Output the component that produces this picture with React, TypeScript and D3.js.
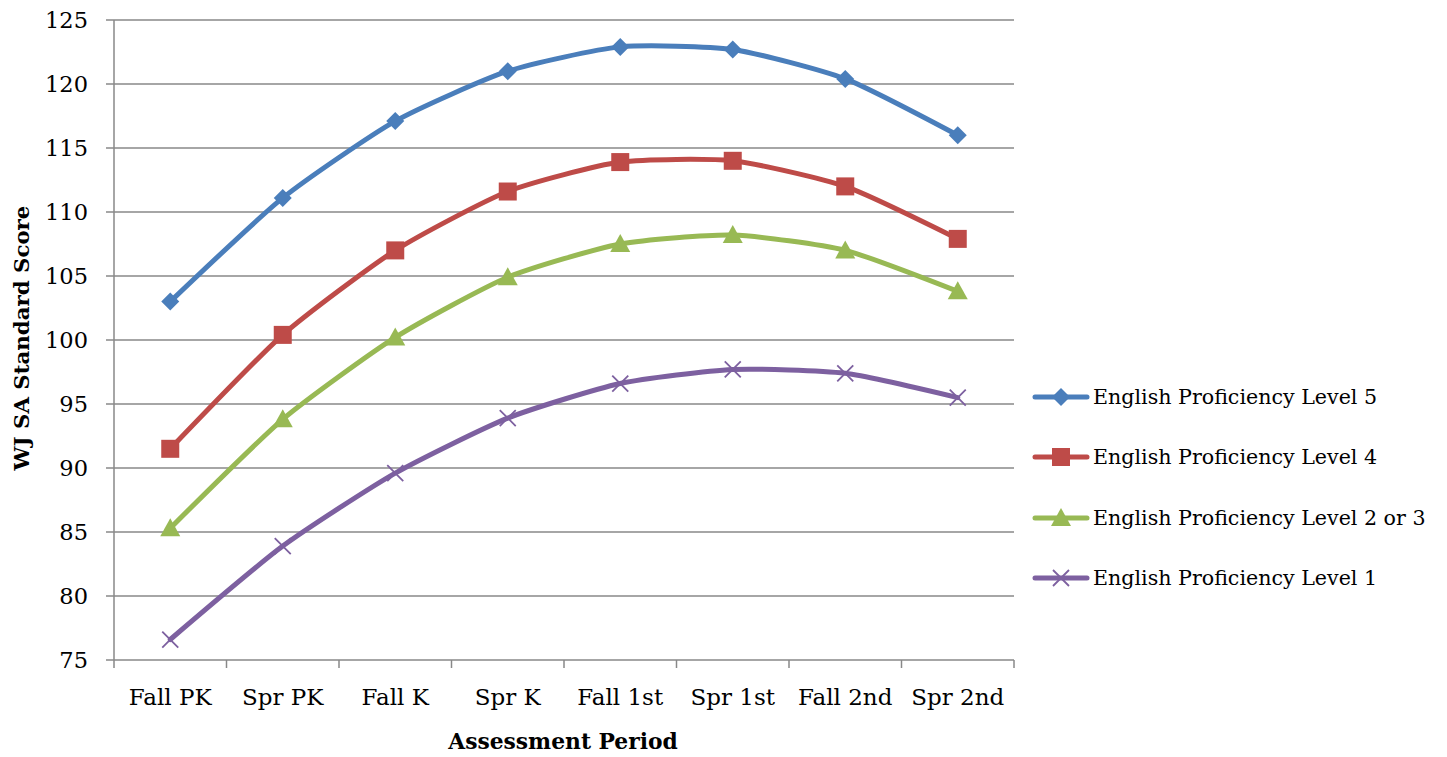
import React from "react";
import * as d3 from "d3";

const categories = ["Fall PK", "Spr PK", "Fall K", "Spr K", "Fall 1st", "Spr 1st", "Fall 2nd", "Spr 2nd"];
const level5 = [103.0, 111.1, 117.1, 121.0, 122.9, 122.7, 120.4, 116.0];
const level4 = [91.5, 100.4, 107.0, 111.6, 113.9, 114.0, 112.0, 107.9];
const level23 = [85.3, 93.8, 100.2, 104.9, 107.5, 108.2, 107.0, 103.8];
const level1 = [76.6, 83.9, 89.6, 93.9, 96.6, 97.7, 97.4, 95.5];
const yTicks = [75, 80, 85, 90, 95, 100, 105, 110, 115, 120, 125];

const series = [
  { name: "English Proficiency Level 5", values: level5, color: "#4A7EBB", marker: "diamond" },
  { name: "English Proficiency Level 4", values: level4, color: "#BE4B48", marker: "square" },
  { name: "English Proficiency Level 2 or 3", values: level23, color: "#98B954", marker: "triangle" },
  { name: "English Proficiency Level 1", values: level1, color: "#7D60A0", marker: "x" },
];

const W = 1447, H = 757;
const left = 114, right = 1014, top = 20, bottom = 660;
const FONT = "'DejaVu Serif', 'Liberation Serif', serif";

function Marker({ type, x, y, color }: { type: string; x: number; y: number; color: string }) {
  if (type === "diamond") {
    const s = 9;
    return <path d={`M${x},${y - s}L${x + s},${y}L${x},${y + s}L${x - s},${y}Z`} fill={color} />;
  }
  if (type === "square") {
    const s = 9;
    return <rect x={x - s} y={y - s} width={2 * s} height={2 * s} fill={color} />;
  }
  if (type === "triangle") {
    return <path d={`M${x},${y - 10}L${x + 10},${y + 8}L${x - 10},${y + 8}Z`} fill={color} />;
  }
  const s = 8;
  return (
    <path d={`M${x - s},${y - s}L${x + s},${y + s}M${x - s},${y + s}L${x + s},${y - s}`} stroke={color} strokeWidth={1.8} fill="none" />
  );
}

export default function App() {
  const x = d3.scaleBand<string>().domain(categories).range([left, right]);
  const y = d3.scaleLinear().domain([75, 125]).range([bottom, top]);
  const cx = (c: string) => (x(c) as number) + x.bandwidth() / 2;
  const line = d3
    .line<number>()
    .x((_, i) => cx(categories[i]))
    .y((v) => y(v))
    .curve(d3.curveCardinal.tension(0.4));
  const boundaries = categories.map((c) => x(c) as number).concat([right]);
  const legendY = [397, 457, 518, 578];

  return (
    <svg width={W} height={H} style={{ position: "absolute", left: 0, top: 0, background: "#fff" }}>
      {yTicks.map((t) => (
        <g key={t}>
          <line x1={left - 8} x2={right} y1={y(t)} y2={y(t)} stroke="#888" strokeWidth={1.5} />
          <text x={88} y={y(t)} dy="0.35em" textAnchor="end" fontFamily={FONT} fontSize={22.5} fill="#000">
            {t}
          </text>
        </g>
      ))}
      <line x1={left} x2={left} y1={top} y2={bottom} stroke="#888" strokeWidth={1.5} />
      {boundaries.map((b, i) => (
        <line key={i} x1={b} x2={b} y1={bottom} y2={bottom + 8} stroke="#888" strokeWidth={1.5} />
      ))}
      {categories.map((c) => (
        <text key={c} x={cx(c)} y={697} dy="0.35em" textAnchor="middle" fontFamily={FONT} fontSize={23} fill="#000">
          {c}
        </text>
      ))}
      <text x={563} y={741} dy="0.35em" textAnchor="middle" fontFamily={FONT} fontSize={21.8} fontWeight="bold">
        Assessment Period
      </text>
      <text
        transform={`translate(22,${(top + bottom) / 2 - 2}) rotate(-90)`}
        textAnchor="middle"
        dy="0.35em"
        fontFamily={FONT}
        fontSize={21.3}
        fontWeight="bold"
      >
        WJ SA Standard Score
      </text>
      {series.map((s) => (
        <g key={s.name}>
          <path d={line(s.values) || ""} fill="none" stroke={s.color} strokeWidth={5} strokeLinejoin="round" strokeLinecap="round" />
          {s.values.map((v, i) => (
            <Marker key={i} type={s.marker} x={cx(categories[i])} y={y(v)} color={s.color} />
          ))}
        </g>
      ))}
      {series.map((s, i) => (
        <g key={s.name}>
          <line x1={1035} x2={1087} y1={legendY[i]} y2={legendY[i]} stroke={s.color} strokeWidth={5} strokeLinecap="round" />
          <Marker type={s.marker} x={1061} y={legendY[i]} color={s.color} />
          <text x={1093} y={legendY[i]} dy="0.35em" fontFamily={FONT} fontSize={20.6} fill="#000">
            {s.name}
          </text>
        </g>
      ))}
    </svg>
  );
}
